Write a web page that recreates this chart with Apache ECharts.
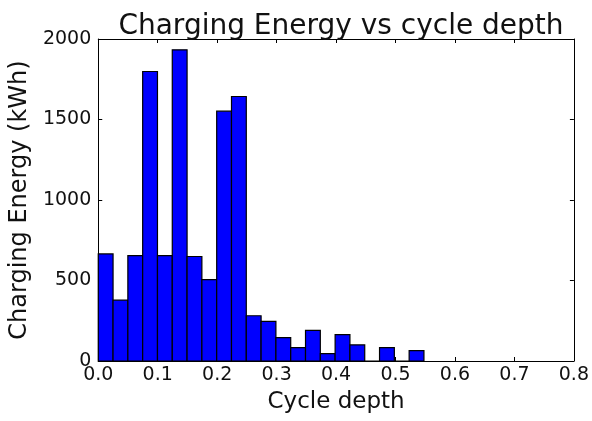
<!DOCTYPE html>
<html><head><meta charset="utf-8">
<script src="https://cdn.jsdelivr.net/npm/echarts@6/dist/echarts.min.js"></script>
<style>html,body{margin:0;padding:0;background:#fff}#c{width:592px;height:421px}</style>
</head><body><div id="c"></div>
<script>
var binEdges = [0.0, 0.0249, 0.0498, 0.0747, 0.0996, 0.1245, 0.1494, 0.1743, 0.1992, 0.2241, 0.2490, 0.2739,
  0.2988, 0.3237, 0.3486, 0.3735, 0.3984, 0.4233, 0.4482, 0.4731, 0.4980, 0.5229, 0.5478];
var energy = [665, 378, 655, 1798, 655, 1933, 649, 505, 1552, 1643, 281, 246,
  145, 83, 190, 46, 164, 100, 0, 83, 0, 64];
var xTicks = [0.0, 0.1, 0.2, 0.3, 0.4, 0.5, 0.6, 0.7, 0.8];
var yTicks = [0, 500, 1000, 1500, 2000];

var data = energy.map(function (v, i) { return [binEdges[i], binEdges[i + 1], v]; });
var font = 'DejaVu Sans';
var chart = echarts.init(document.getElementById('c'));
var axisLine = { show: true, onZero: false, lineStyle: { color: '#000', width: 1 } };
var tick = { show: true, inside: true, length: 4, lineStyle: { color: '#000' } };
chart.setOption({
  animation: false,
  title: { text: 'Charging Energy vs cycle depth', left: 336, textAlign: 'center', top: 8,
    textStyle: { fontFamily: font, fontSize: 28, fontWeight: 'normal', color: '#111' } },
  grid: { left: 96, top: 39, right: 16, bottom: 60 },
  xAxis: [{
    type: 'value', min: xTicks[0], max: xTicks[xTicks.length - 1], interval: 0.1,
    name: 'Cycle depth', nameLocation: 'middle', nameGap: 30,
    nameTextStyle: { fontFamily: font, fontSize: 23, color: '#111' },
    axisLine: axisLine, axisTick: tick, splitLine: { show: false },
    axisLabel: { fontFamily: font, fontSize: 19, color: '#111', margin: 5,
      formatter: function (v) { return v.toFixed(1); } }
  }, {
    type: 'value', position: 'top', min: xTicks[0], max: xTicks[xTicks.length - 1], interval: 0.1,
    axisLine: axisLine, axisTick: tick, axisLabel: { show: false }, splitLine: { show: false }
  }],
  yAxis: [{
    type: 'value', min: yTicks[0], max: yTicks[yTicks.length - 1], interval: 500,
    name: 'Charging Energy (kWh)', nameLocation: 'middle', nameGap: 62, nameRotate: 90,
    nameTextStyle: { fontFamily: font, fontSize: 24, color: '#111' },
    axisLine: axisLine, axisTick: tick, splitLine: { show: false },
    axisLabel: { fontFamily: font, fontSize: 19, color: '#111', margin: 7,
      formatter: function (v) { return String(v); } }
  }, {
    type: 'value', position: 'right', min: yTicks[0], max: yTicks[yTicks.length - 1], interval: 500,
    axisLine: axisLine, axisTick: tick, axisLabel: { show: false }, splitLine: { show: false }
  }],
  series: [{
    type: 'custom',
    data: data,
    encode: { x: [0, 1], y: 2 },
    renderItem: function (params, api) {
      var p0 = api.coord([api.value(0), 0]);
      var p1 = api.coord([api.value(1), api.value(2)]);
      return {
        type: 'rect',
        shape: { x: p0[0], y: p1[1], width: p1[0] - p0[0], height: p0[1] - p1[1] },
        style: { fill: '#0000ff', stroke: '#000', lineWidth: 1.2 }
      };
    }
  }]
});
</script></body></html>
